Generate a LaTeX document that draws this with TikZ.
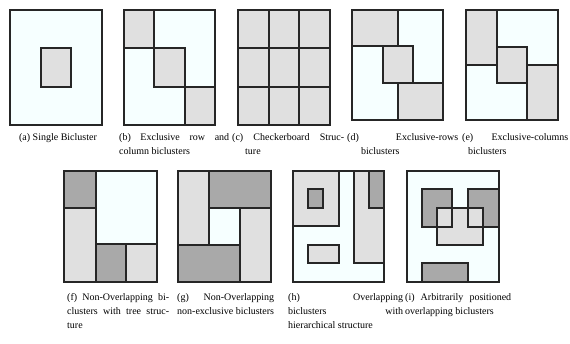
\documentclass[tikz,border=0pt]{standalone}
\usepackage{fontspec}
\setmainfont{Liberation Serif}
\definecolor{bgcyan}{HTML}{F6FFFF}
\definecolor{bclite}{HTML}{E0E0E0}
\definecolor{bcdark}{HTML}{A9A9A9}
\newcommand{\jline}[2]{\makebox[#1pt][s]{#2}}

\begin{document}
\begin{tikzpicture}[x=1pt, y=-1pt,
        outline/.style={draw=black!85, line width=1.2pt},
        frame/.style={outline, fill=bgcyan},
        lite/.style={outline, fill=bclite},
        dark/.style={outline, fill=bcdark},
        captext/.style={anchor=north west, inner sep=0pt, align=left, font=\fontsize{10}{14}\selectfont}
    ]
        \useasboundingbox (0,0) rectangle (570,343);

        % (a)
        \draw[frame] (10,10) rectangle (102,125);
        \draw[lite]  (41,48) rectangle (71,87);
        % (b)
        \draw[frame] (124,10) rectangle (215,125);
        \draw[lite]  (124,10) rectangle (154,48);
        \draw[lite]  (154,48) rectangle (185,87);
        \draw[lite]  (185,87) rectangle (215,125);
        % (c)
        \draw[lite]  (238,10) rectangle (330,125);
        \draw[outline] (269,10) -- (269,125) (299,10) -- (299,125)
                       (238,48) -- (330,48) (238,87) -- (330,87);
        % (d)
        \draw[frame] (352,10) rectangle (443,120);
        \draw[lite]  (352,10) rectangle (398,46);
        \draw[lite]  (383,46) rectangle (413,83);
        \draw[lite]  (398,83) rectangle (443,120);
        % (e)
        \draw[frame] (466,10) rectangle (558,120);
        \draw[lite]  (466,10) rectangle (497,65);
        \draw[lite]  (497,47) rectangle (527,83);
        \draw[lite]  (527,65) rectangle (558,120);
        % (f)
        \draw[frame] (64,171) rectangle (157,282);
        \draw[dark]  (64,171) rectangle (96,208);
        \draw[lite]  (64,208) rectangle (96,282);
        \draw[dark]  (96,244) rectangle (126,282);
        \draw[lite]  (126,244) rectangle (157,282);
        % (g)
        \draw[frame] (178,171) rectangle (271,282);
        \draw[lite]  (178,171) rectangle (209,245);
        \draw[dark]  (209,171) rectangle (271,208);
        \draw[lite]  (240,208) rectangle (271,282);
        \draw[dark]  (178,245) rectangle (240,282);
        % (h)
        \draw[frame] (293,171) rectangle (384,282);
        \draw[lite]  (293,171) rectangle (339,226);
        \draw[dark]  (308,189) rectangle (323,208);
        \draw[lite]  (308,245) rectangle (339,263);
        \draw[lite]  (354,171) rectangle (384,263);
        \draw[dark]  (369,171) rectangle (384,208);
        % (i)
        \draw[frame] (407,171) rectangle (499,282);
        \fill[bcdark] (422,189) rectangle (452,227) (468,189) rectangle (499,227);
        \fill[bclite] (437,208) rectangle (483,245);
        \draw[outline] (422,189) rectangle (452,227) (468,189) rectangle (499,227)
                       (437,208) rectangle (483,245);
        \draw[dark]  (422,263) rectangle (468,282);

        \node[captext, anchor=base] (capa) at (58,140) {(a) Single Bicluster};
        \node[captext] (capb) at (119,133) {\jline{110}{(b) Exclusive row and}\\column biclusters};
        \node[captext] (capc) at (232,133) {\jline{112}{(c) Checkerboard Struc-}\\\hspace*{13pt}ture};
        \node[captext] (capd) at (347,133) {\jline{111}{(d) Exclusive-rows}\\\hspace*{14pt}biclusters};
        \node[captext] (cape) at (462,133) {\jline{106}{(e) Exclusive-columns}\\\hspace*{6pt}biclusters};
        \node[captext] (capf) at (67,293)  {\jline{102}{(f) Non-Overlapping bi-}\\\jline{102}{clusters with tree struc-}\\ture};
        \node[captext] (capg) at (177,293) {\jline{97}{(g) Non-Overlapping}\\non-exclusive biclusters};
        \node[captext] (caph) at (288,293) {\jline{115}{(h) Overlapping}\\\jline{115}{biclusters with}\\hierarchical structure};
        \node[captext] (capi) at (405,293) {\jline{106}{(i) Arbitrarily positioned}\\overlapping biclusters};
    \end{tikzpicture}
\end{document}
